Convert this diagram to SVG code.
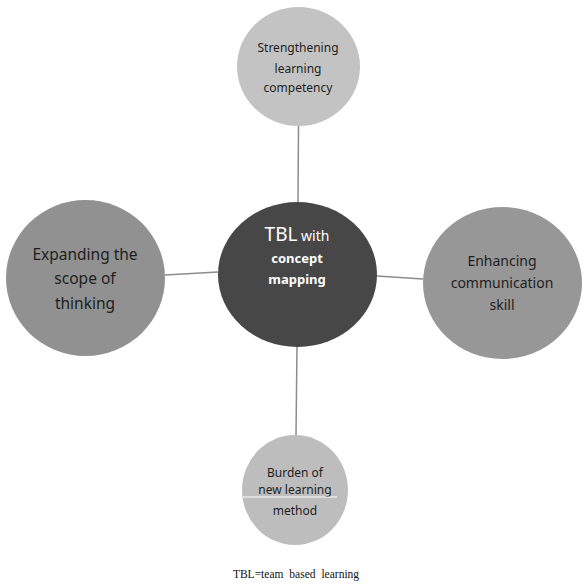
<svg xmlns="http://www.w3.org/2000/svg" width="586" height="584" viewBox="0 0 586 584">
<style>
.t{font-family:"Noto Sans","Open Sans","DejaVu Sans",sans-serif;fill:#1e1e1e;text-anchor:middle}
.w{font-family:"Noto Sans","Open Sans","DejaVu Sans",sans-serif;fill:#ffffff;text-anchor:middle}
.c{stroke:#8c8c8c;stroke-width:1.5;fill:none}
.cap{font-family:"Liberation Serif","Times New Roman",serif;font-size:11.5px;fill:#111;text-anchor:middle;word-spacing:3px}
</style>
<rect width="586" height="584" fill="#ffffff"/>
<g id="connectors">
<line class="c" x1="298.5" y1="126" x2="298" y2="202"/>
<line class="c" x1="165" y1="275" x2="218" y2="272"/>
<line class="c" x1="377" y1="276" x2="423" y2="279"/>
<line class="c" x1="297" y1="347" x2="296" y2="435"/>
</g>
<g id="center">
<ellipse cx="297.5" cy="274.5" rx="79.5" ry="72.5" fill="#474747"/>
<text class="w" x="297" y="241"><tspan font-size="19">TBL</tspan><tspan font-size="14"> with</tspan></text>
<text class="w" x="297" y="263" font-size="13" font-weight="bold">concept</text>
<text class="w" x="297" y="284" font-size="13" font-weight="bold">mapping</text>
</g>
<g id="top">
<ellipse cx="298.5" cy="66.5" rx="61.5" ry="59.5" fill="#c3c3c3"/>
<text class="t" x="298" y="52" font-size="12">Strengthening</text>
<text class="t" x="298" y="73" font-size="12">learning</text>
<text class="t" x="298" y="92" font-size="12">competency</text>
</g>
<g id="left">
<ellipse cx="85.5" cy="278" rx="79.5" ry="78" fill="#919191"/>
<text class="t" x="85" y="260" font-size="15.5">Expanding the</text>
<text class="t" x="85" y="284" font-size="15.5">scope of</text>
<text class="t" x="85" y="309" font-size="15.5">thinking</text>
</g>
<g id="right">
<ellipse cx="502.5" cy="283" rx="79.5" ry="76" fill="#979797"/>
<text class="t" x="502" y="266" font-size="14">Enhancing</text>
<text class="t" x="502" y="288" font-size="14">communication</text>
<text class="t" x="502" y="310" font-size="14">skill</text>
</g>
<g id="bottom">
<ellipse cx="295" cy="490" rx="53" ry="55" fill="#bdbdbd"/>
<text class="t" x="295" y="477" font-size="12">Burden of</text>
<text class="t" x="295" y="494" font-size="12">new learning</text>
<text class="t" x="295" y="515" font-size="12">method</text>
<line x1="243" y1="497" x2="337" y2="497" stroke="#ffffff" stroke-width="1"/>
</g>
<text class="cap" x="296" y="578">TBL=team based learning</text>
</svg>
